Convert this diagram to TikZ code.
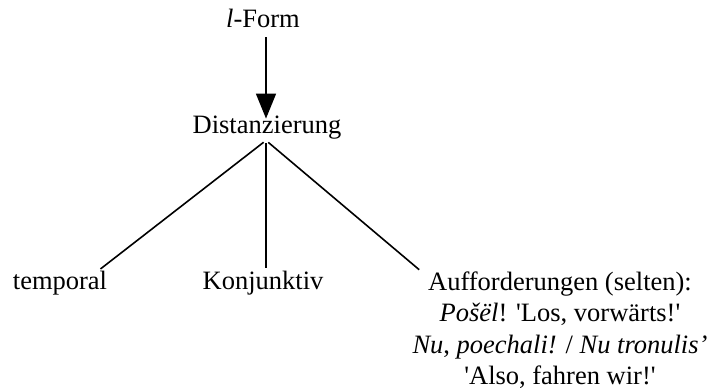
\documentclass[tikz,border=0pt]{standalone}
\usepackage{fontspec}
\setmainfont{Liberation Serif}
\usetikzlibrary{arrows.meta}

\begin{document}
\begin{tikzpicture}[x=1pt,y=1pt,every node/.style={inner sep=0pt,font=\fontsize{26.5}{31.5}\selectfont},line width=1.6pt]
  \useasboundingbox (0,0) rectangle (713,-390);
  \node (l) at (263,-18) {\textit{l}-Form};
  \node (d) at (267,-128) {Distanzierung};
  \node (t) at (60,-283) {temporal};
  \node (k) at (263,-283) {Konjunktiv};
  \node (a) at (560,-283) [anchor=north,yshift=12pt,align=center] {Aufforderungen (selten):\\
    \textit{Pošël}! \textquotesingle Los, vorwärts!\textquotesingle\\
    \textit{Nu}, \textit{poechali!} / \textit{Nu tronulis’}\\
    \textquotesingle Also, fahren wir!\textquotesingle};
  \draw[-{Triangle[width=20pt,length=25pt]},shorten <=9pt,shorten >=-3pt] ([xshift=3pt]l.south) -- ([xshift=-1pt]d.north);
  \draw[shorten <=3pt,shorten >=2pt] ([xshift=-1pt]d.south) -- ([xshift=-9pt]t.north east);
  \draw[shorten <=3pt,shorten >=2pt] ([xshift=-1pt]d.south) -- ([xshift=3pt]k.north);
  \draw[shorten <=3pt,shorten >=2pt] ([xshift=-1pt]d.south) -- ([xshift=9pt]a.north west);
\end{tikzpicture}
\end{document}
